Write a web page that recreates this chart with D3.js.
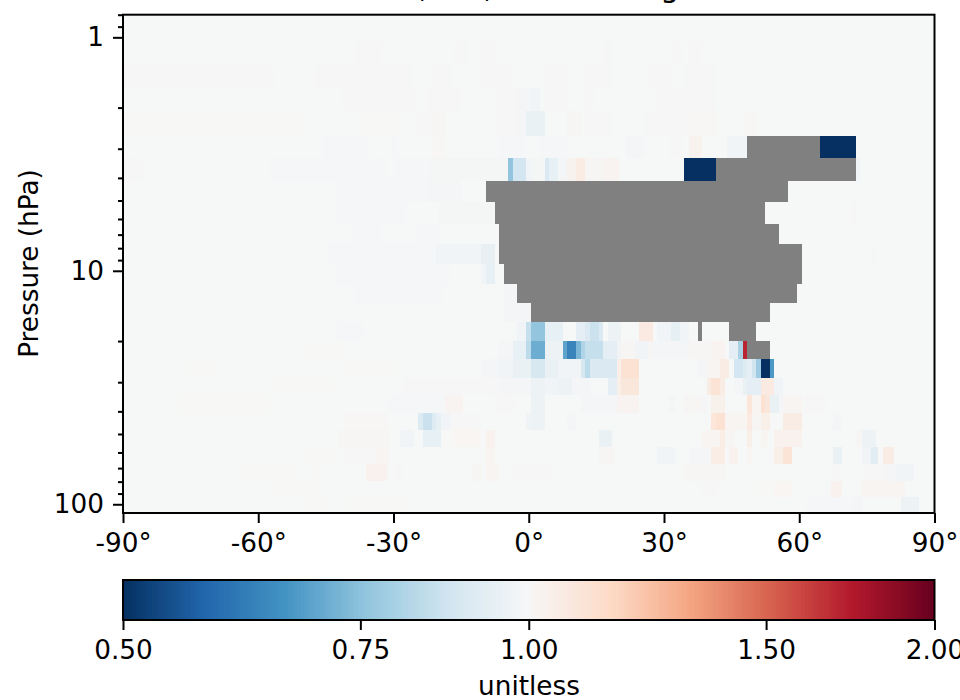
<!DOCTYPE html>
<html><head><meta charset="utf-8">
<script src="https://cdnjs.cloudflare.com/ajax/libs/d3/7.8.5/d3.min.js"></script>
<style>
html,body{margin:0;padding:0;background:#fff}
svg{display:block}
text{font-family:"DejaVu Sans";fill:#000}
</style></head><body>
<svg id="c" width="960" height="700"></svg>
<script>
// Colour map stops (low to high)
const cmapStops = ["#053061","#2166ac","#4393c3","#92c5de","#d1e5f0","#f7f7f7","#fddbc7","#f4a582","#d6604d","#b2182b","#67001f"];
const ratioDomain = [0.5, 2];
const ratioTicks = [0.5, 0.75, 1, 1.5, 2];
const lonTicks = [-90, -60, -30, 0, 30, 60, 90];
const pressureMajor = [1, 10, 100];
const pressureMinor = [0.8,0.9,2,3,4,5,6,7,8,9,20,30,40,50,60,70,80,90];
const lonDomain = [-90, 90];
const titleStart = "O3, v/v, Annual";
const titleEnd = "Avg";
const xLabel = "unitless";
const yLabel = "Pressure (hPa)";
// Pressure level edges (hPa), top of the plot to its bottom
const pressureEdges = [0.8,1.034,1.314,1.649,2.063,2.647,3.287,4.125,5.075,6.304,7.678,9.352,11.39,13.74,16.57,19.98,23.87,28.78,34.03,40.64,48.06,56.83,67.2,79.5,93.0,109.0];
// For each level: [west lon, east lon, ratio]; null ratio = no data (grey)
const levelCells = [
/*0*/ [],
/*1*/ [[-38.5,-32.5,1.003],[-16.5,-13.5,1.003],[-10.5,-7,1.003],[16.5,18.5,1.003],[31.5,34,1.003],[35.5,38.5,1.003]],
/*2*/ [[-90,-56.5,1.003],[-47.5,-26,1.003],[-21.5,-17,1.003],[-10.5,-7.5,1.003],[-7,-3.5,1.003],[3.5,8.5,1.003],[12.5,18.5,1.003],[26.5,31.5,1.003],[34.5,41.5,1.003]],
/*3*/ [[-41.5,-25,1.003],[-22.5,-15,1.003],[-7,-2.5,1.003],[-2.5,0.5,0.988],[0.5,2.5,0.98],[3.5,8.5,1.003],[12.5,14.5,1.003],[28.5,38.5,1.004],[38.5,41.5,1.003]],
/*4*/ [[-90,-50.5,1.002],[-38,-29,1.002],[-25,-21.5,1.003],[-21.5,-18.5,1.008],[-7,-2.5,1.003],[-2.5,-0.5,0.985],[-0.5,3.5,0.955],[8.5,11.5,1.008],[12.5,18.5,1.003],[25.5,36,1.004],[36,41.5,1.006],[47.5,50.5,1.005]],
/*5*/ [[-45.5,-35.5,0.992],[-30.5,-29,0.992],[-21.5,-18.5,1.006],[-6.5,-0.5,0.992],[2.5,8.5,0.992],[21.5,25.5,0.988],[31,34,1.003],[35.5,38.5,1.025],[44,46.5,0.975],[46.5,48.5,0.98],[48.5,64.5,null],[64.5,72.5,0.5]],
/*6*/ [[-90,-85.5,1.003],[-57.5,-31.5,0.992],[-30,-22,0.992],[-22,-10,0.99],[-10,-4.5,0.99],[-4.5,-3.5,0.76],[-3.5,-0.5,0.88],[-0.5,0.5,0.975],[0.5,3.5,0.99],[3.5,4.5,0.9],[4.5,6.5,0.945],[6.5,8.5,0.985],[8.5,10.5,1.025],[10.5,12.5,1.06],[12.5,17,1.008],[17,20,1.02],[34.5,41.5,0.5],[41.5,72.5,null],[72.5,73.5,0.975]],
/*7*/ [[-42.5,-22.5,0.992],[-22.5,-15,0.985],[-9.5,57.5,null]],
/*8*/ [[-42.5,-27.5,0.992],[-20,-7.5,0.99],[-7.5,52.5,null],[71.5,72.5,0.995]],
/*9*/ [[-39,-32.5,0.992],[-25,-20,0.992],[-6.5,55.5,null]],
/*10*/[[-44.5,-20.5,0.992],[-20.5,-10.5,0.98],[-10.5,-7.5,0.95],[-6.5,60.5,null],[76,77,0.995]],
/*11*/[[-42.5,-17.5,0.992],[-10.5,-9.5,0.975],[-9.5,-7.5,0.945],[-5.5,60.5,null]],
/*12*/[[-38.5,-19,0.992],[-5.5,-2.5,0.988],[-2.5,59.5,null]],
/*13*/[[-5.5,0.5,0.988],[0.5,53.5,null]],
/*14*/[[-42.5,-36.5,0.992],[-2.5,-0.5,0.975],[-0.5,0.5,0.85],[0.5,3.5,0.76],[3.5,7.5,0.945],[10.5,12.5,0.935],[12.5,13.5,0.9],[13.5,15.5,0.86],[15.5,16.5,0.9],[17.5,20.5,0.965],[24.5,27.5,1.065],[28.5,31.5,0.975],[31.5,33.5,0.94],[33.5,35.5,0.975],[37.5,38.5,null],[44.5,50.5,null]],
/*15*/[[-50.5,-40.5,1.002],[-6.5,-3.5,0.985],[-3.5,-0.5,0.945],[-0.5,0.5,0.83],[0.5,3.5,0.71],[3.5,7.5,0.965],[7.5,8.5,0.69],[8.5,10.5,0.63],[10.5,11.5,0.73],[11.5,12.5,0.81],[12.5,16.5,0.85],[16.5,19.5,0.935],[19.5,20.5,0.975],[20.5,23.5,1.008],[23.5,26.5,0.975],[26.5,27.5,1.008],[27.5,35.5,0.985],[35.5,40.5,1.008],[40.5,43.5,1.02],[44.5,46.5,0.935],[46.5,47.5,0.8],[47.5,48.5,1.7],[48.5,53.5,null]],
/*16*/[[-75.5,-69.5,1.002],[-41.5,-29.5,1.002],[-10.5,-6.5,0.985],[-6.5,-3.5,0.975],[-3.5,0.5,0.955],[0.5,3.5,0.89],[3.5,6.5,0.955],[6.5,11.5,0.975],[11.5,12.5,0.89],[12.5,13.5,0.83],[13.5,19.5,0.9],[19.5,20.5,1.04],[20.5,24.5,1.11],[37.5,39.5,0.985],[39.5,42.5,1.015],[42.5,44.5,1.055],[45.5,47.5,0.88],[47.5,48.5,0.91],[48.5,49.5,0.935],[49.5,50.5,0.87],[50.5,51.5,0.78],[51.5,53.5,0.5],[53.5,54.5,0.67]],
/*17*/[[-57.5,-43.5,1.002],[-28,-6.5,0.996],[-6.5,0.5,0.985],[0.5,3.5,0.965],[3.5,6.5,0.975],[6.5,9.5,0.965],[9.5,13.5,0.985],[17.5,19.5,0.935],[19.5,20.5,1.04],[20.5,24.5,1.08],[39.5,40.5,1.055],[40.5,42.5,1.1],[42.5,43.5,1.055],[45.5,47.5,0.985],[47.5,48.5,0.955],[48.5,51.5,0.935],[51.5,54.5,1.065],[54.5,56.5,0.975]],
/*18*/[[-78,-57.5,1.002],[-31.5,-18.5,0.993],[-18.5,-14.5,1.02],[-7.5,-2.5,0.996],[0.5,3.5,0.965],[11.5,15.5,0.985],[15.5,19.5,0.985],[19.5,24.5,1.02],[31,32.5,0.985],[34.5,38.5,1.01],[38.5,39.5,0.985],[40.5,43.5,1.035],[48.5,49.5,1.09],[49.5,51.5,1.015],[51.5,52.5,1.11],[52.5,53.5,1.08],[53.5,55.5,0.955],[55.5,56.5,0.985],[56.5,60.5,1.015],[61,66,1.004]],
/*19*/[[-41,-31.5,1.006],[-24.5,-23.5,0.91],[-23.5,-21.5,0.86],[-21.5,-20.5,0.91],[-20.5,-19.5,0.945],[-19.5,-17.5,0.975],[-17.5,-11,1.004],[-0.5,0.5,0.97],[0.5,3.5,0.965],[8.5,10.5,0.988],[40.5,41.5,1.09],[41.5,43.5,1.11],[43.5,48.5,1.015],[48.5,49.5,1.065],[49.5,51.5,1.01],[51.5,53.5,1.04],[56.5,60.5,1.055],[67.5,69.5,0.988]],
/*20*/[[-42,-31,1.008],[-28.5,-25.5,0.975],[-23.5,-19.5,0.945],[-19.5,-16.5,1.002],[-16.5,-10.5,1.012],[-9.5,-7.5,1.03],[15.5,18.5,0.955],[38.5,42.5,1.015],[42.5,43.5,1.05],[43.5,45.5,1.01],[48.5,49.5,1.04],[51.5,53,1.015],[54.5,60.5,1.03],[72.5,74,1.008],[74,77,0.965]],
/*21*/[[-50.5,-43,1.002],[-41,-34,1.004],[-34,-31,1.015],[-9.5,-7.5,1.015],[15.5,19,1.008],[28.5,32.5,0.975],[35.5,40.5,0.988],[40.5,43.5,1.05],[44.5,46.5,1.03],[48.5,49.5,1.015],[54.5,56.5,1.04],[56.5,58.5,1.1],[67.5,69.5,0.955],[74,76,0.975],[76,77.5,0.925],[78.5,81,1.055]],
/*22*/[[-64,-51,1.002],[-48,-46,1.002],[-36,-31.5,1.03],[-30,-28,1.004],[-12.5,-10.5,1.008],[-9.5,-6.5,1.015],[-4,5,1.004],[34.5,43.5,1.01],[67.5,69,1.004],[74.5,79,1.004],[79,81.5,0.988],[81.5,85.5,0.975]],
/*23*/[[-57.5,-47,1.002],[38.5,42,1.004],[50.5,54,1.002],[54.5,58.5,1.012],[67,69.5,1.03],[74,83.5,1.015]],
/*24*/[[-50,-45,1.002],[-40,-27,1.002],[61.5,72,0.992],[72,74,0.988],[82.5,86.5,0.965]]
];
// Plain ground colour where a ratio was not read as different from 1
const groundColor = "#f6f8f7";
const maskColor = "#808080";

const svg = d3.select("#c");
const x = d3.scaleLinear().domain(lonDomain).range([123, 934.5]);
const y = d3.scaleLog().domain([pressureEdges[0], pressureEdges[pressureEdges.length-1]]).range([14.7, 513]);
const cb = d3.scaleLog().domain(ratioDomain).range([123, 934.5]);
const norm = d3.scaleLog().domain(ratioDomain).range([0, 1]).clamp(true);
const cmap = d3.scaleLinear().domain(cmapStops.map((_, i) => i / (cmapStops.length - 1))).range(cmapStops);
const color = r => r === null ? maskColor : cmap(norm(r));

// Heat map
svg.append("rect").attr("x", x(-90)).attr("y", y.range()[0]).attr("width", x(90)-x(-90)).attr("height", y.range()[1]-y.range()[0]).attr("fill", groundColor);
const flat = levelCells.flatMap((cells, i) => cells.map(c => ({w:c[0], e:c[1], r:c[2], top:pressureEdges[i], bot:pressureEdges[i+1]})));
svg.append("g").attr("shape-rendering","crispEdges").selectAll("rect").data(flat).join("rect")
  .attr("x", d => x(d.w)).attr("y", d => y(d.top))
  .attr("width", d => x(d.e)-x(d.w)).attr("height", d => y(d.bot)-y(d.top))
  .attr("fill", d => color(d.r));

// Axes
const FS = 26.3;
function styleAxis(g){
  g.select(".domain").remove();
  g.selectAll("line").attr("stroke","#000").attr("stroke-width",2);
  g.selectAll("text").attr("font-size",FS).attr("fill","#000");
}
svg.append("g").attr("transform","translate(0,513)")
  .call(d3.axisBottom(x).tickValues(lonTicks).tickSize(10).tickPadding(10).tickFormat(d => d + "°")).call(styleAxis);
svg.append("g").attr("transform","translate(123,0)")
  .call(d3.axisLeft(y).tickValues(pressureMajor).tickSize(10).tickPadding(9).tickFormat(d3.format("d"))).call(styleAxis);
svg.append("g").attr("transform","translate(123,0)")
  .call(d3.axisLeft(y).tickValues(pressureMinor).tickSize(5).tickFormat("")).call(styleAxis);
svg.append("rect").attr("x",123).attr("y",14.7).attr("width",811.5).attr("height",498.3).attr("fill","none").attr("stroke","#000").attr("stroke-width",2);

// Title (cropped by the top of the picture) and axis titles
const title = svg.append("text").attr("x",376).attr("y",-3).attr("font-size",30);
title.append("tspan").text(titleStart);
title.append("tspan").attr("dx",17).text(titleEnd);
svg.append("text").attr("transform","translate(38,263.5) rotate(-90)").attr("text-anchor","middle").attr("font-size",FS).text(yLabel);

// Colour bar
const barSteps = d3.range(256);
const barTop = 580, barBot = 620;
svg.append("g").attr("shape-rendering","crispEdges").selectAll("rect").data(barSteps).join("rect")
  .attr("x", i => 123 + i/256*811.5).attr("y", barTop).attr("width", 811.5/256+0.5).attr("height", barBot-barTop)
  .attr("fill", i => cmap((i+0.5)/256));
svg.append("rect").attr("x",123).attr("y",barTop).attr("width",811.5).attr("height",barBot-barTop).attr("fill","none").attr("stroke","#000").attr("stroke-width",2);
svg.append("g").attr("transform",`translate(0,${barBot})`)
  .call(d3.axisBottom(cb).tickValues(ratioTicks).tickSize(10).tickPadding(10).tickFormat(d3.format(".2f"))).call(styleAxis);
svg.append("text").attr("x",529).attr("y",694.5).attr("text-anchor","middle").attr("font-size",FS).text(xLabel);
</script>
</body></html>
